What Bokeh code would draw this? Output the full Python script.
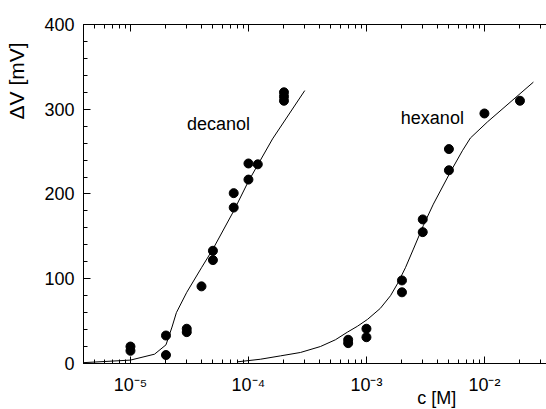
from bokeh.plotting import figure
from bokeh.models import Range1d, LogAxis, FixedTicker, CustomJSTickFormatter, Label
from bokeh.embed import file_html
from bokeh.resources import INLINE

# ---- data ----
decanol_c = [1e-5, 1e-5, 2e-5, 2e-5, 3e-5, 3e-5, 4e-5, 5e-5, 5e-5,
             7.5e-5, 7.5e-5, 1e-4, 1e-4, 1.2e-4, 2e-4, 2e-4, 2e-4]
decanol_v = [20, 15, 33, 10, 41, 37, 91, 133, 122,
             201, 184, 236, 217, 235, 320, 315, 310]

hexanol_c = [7e-4, 7e-4, 1e-3, 1e-3, 2e-3, 2e-3, 3e-3, 3e-3,
             5e-3, 5e-3, 1e-2, 2e-2]
hexanol_v = [28, 24, 41, 31, 98, 84, 170, 155,
             253, 228, 295, 310]

decanol_fit_c = [4e-6, 1e-5, 1.6e-5, 2.0e-5, 2.25e-5, 2.45e-5, 3e-5, 4e-5,
                 5e-5, 7.5e-5, 1e-4, 1.6e-4, 3e-4]
decanol_fit_v = [1, 4, 11, 22, 43, 60, 84, 113, 135, 180, 215, 265, 322]

hexanol_fit_c = [8.1e-5, 1.26e-4, 1.87e-4, 2.76e-4, 4.07e-4, 5.46e-4, 6.9e-4,
                 8.4e-4, 1.02e-3, 1.31e-3, 1.6e-3, 1.83e-3, 2.14e-3, 2.5e-3,
                 3.04e-3, 3.69e-3, 5.15e-3, 6.5e-3, 7.6e-3, 1.06e-2, 2.6e-2]
hexanol_fit_v = [2, 5, 9, 13, 20, 28, 37, 44, 52, 65, 80, 94, 113, 135,
                 163, 188, 226, 251, 266, 285, 332]

x_tick_values = [1e-5, 1e-4, 1e-3, 1e-2]
x_tick_labels = ["10\u207b\u2075", "10\u207b\u2074", "10\u207b\u00b3", "10\u207b\u00b2"]
y_tick_values = [0, 100, 200, 300, 400]

FONT = "Liberation Sans"

# axis extents in data units (the drawn axes span exactly this box)
X_LO, X_HI = 10 ** -5.398, 10 ** -1.474
Y_LO, Y_HI = 0, 400

x_minor = [k * 10.0 ** e for e in range(-6, -1) for k in range(1, 10)
           if X_LO <= k * 10.0 ** e <= X_HI]
y_minor = list(range(0, 401, 20))

# the frame covers the whole canvas; axes are pinned inside it
p = figure(width=546, height=409, x_axis_type="log",
           x_range=Range1d(10 ** -6.1014, X_HI), y_range=Range1d(-54.28, 428.3),
           output_backend="svg", toolbar_location=None,
           min_border_left=0, min_border_right=0, min_border_top=0,
           min_border_bottom=0)
p.grid.visible = False
p.outline_line_color = None
p.background_fill_color = "white"
p.border_fill_color = "white"

fmt = CustomJSTickFormatter(args=dict(vals=x_tick_values, labs=x_tick_labels), code="""
for (let i = 0; i < vals.length; i++) {
  if (Math.abs(Math.log10(tick) - Math.log10(vals[i])) < 1e-6) return labs[i];
}
return ' ';
""")

def style_axis(ax):
    ax.axis_line_color = "black"
    ax.axis_line_width = 1
    ax.major_tick_in = 7
    ax.major_tick_out = 0
    ax.minor_tick_in = 4
    ax.minor_tick_out = 0
    ax.major_tick_line_color = "black"
    ax.minor_tick_line_color = "black"
    ax.major_label_text_font = FONT
    ax.major_label_text_font_size = "18px"
    ax.major_label_text_color = "black"

xa = p.xaxis[0]
xa.ticker = FixedTicker(ticks=x_tick_values, minor_ticks=x_minor)
xa.formatter = fmt
style_axis(xa)
xa.major_label_standoff = 12
xa.fixed_location = Y_LO
xa.bounds = (X_LO, X_HI)

ya = p.yaxis[0]
ya.ticker = FixedTicker(ticks=y_tick_values, minor_ticks=y_minor)
style_axis(ya)
ya.major_label_standoff = 9
ya.fixed_location = X_LO
ya.bounds = (Y_LO, Y_HI)

top = LogAxis(ticker=FixedTicker(ticks=x_tick_values, minor_ticks=x_minor))
style_axis(top)
top.major_label_text_font_size = "2px"
top.major_label_text_color = None
top.major_label_standoff = 0
top.fixed_location = Y_HI
top.bounds = (X_LO, X_HI)
p.add_layout(top, "above")

p.line(decanol_fit_c, decanol_fit_v, line_color="black", line_width=1)
p.line(hexanol_fit_c, hexanol_fit_v, line_color="black", line_width=1)
p.scatter(decanol_c, decanol_v, size=9, fill_color="black", line_color="black")
p.scatter(hexanol_c, hexanol_v, size=9, fill_color="black", line_color="black")

def lab(x, y, text, size="18px", align="center", baseline="middle", angle=0.0):
    p.add_layout(Label(x=x, y=y, text=text, text_font=FONT, text_font_size=size,
                       text_color="black", text_align=align,
                       text_baseline=baseline, angle=angle))

lab(5.57e-5, 282, "decanol")
lab(3.62e-3, 290, "hexanol")
lab(2.7e-3, -40.7, "c [M]", align="left", baseline="middle")
lab(1.08e-6, 288, "\u0394V [mV]", size="21px", align="left",
    baseline="middle", angle=1.5707963)

open("out.html", "w").write(file_html(p, INLINE))
